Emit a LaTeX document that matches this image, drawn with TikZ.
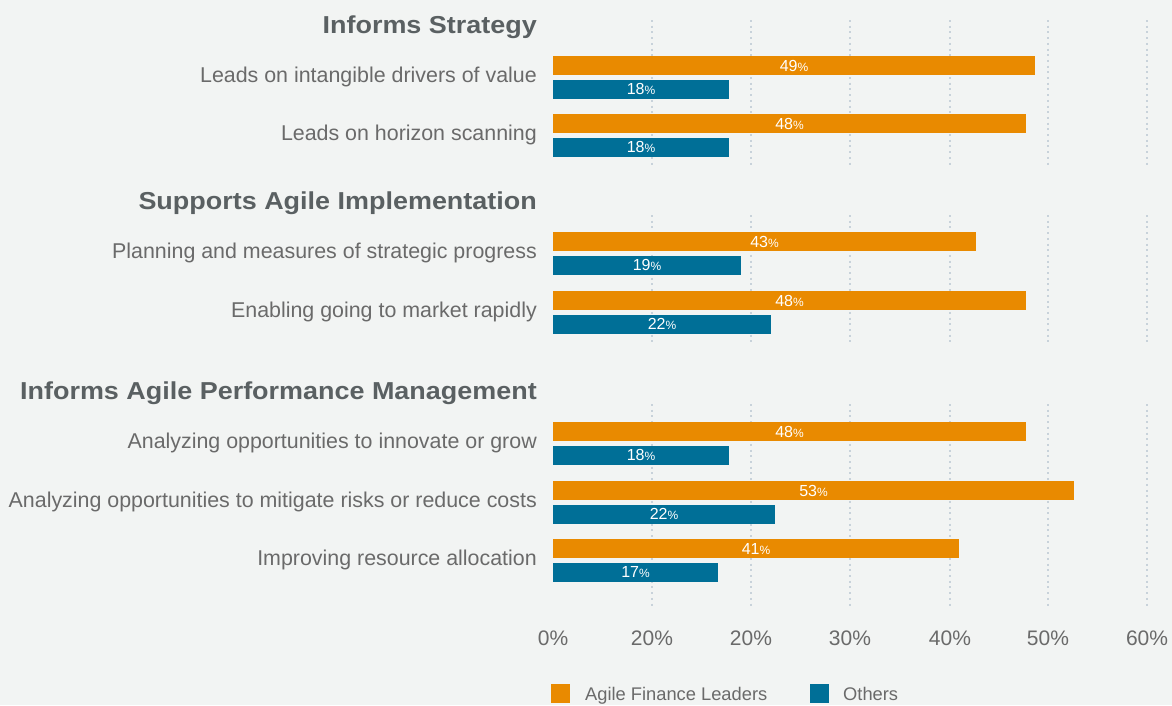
\documentclass[tikz,border=0pt]{standalone}
\usepackage{fontspec}
\setmainfont{Liberation Sans}
\newfontfamily\headfont[FakeStretch=1.1]{Liberation Sans}
\usepackage{tikz}
\usetikzlibrary{positioning}

\definecolor{bgcol}{HTML}{F2F4F3}
\definecolor{leadorange}{HTML}{E98A00}
\definecolor{otherblue}{HTML}{006F97}
\definecolor{gridcol}{HTML}{C8D2DA}
\definecolor{headgray}{HTML}{5A6062}
\definecolor{textgray}{HTML}{6A6A6A}

\newcommand{\smallpct}{{\fontsize{12}{14}\selectfont\%}}

\begin{document}
\begin{tikzpicture}[
    x=1pt, y=-1pt,
    header/.style={anchor=base east, inner sep=0pt, text=headgray,
        font=\headfont\bfseries\fontsize{24.5}{26}\selectfont},
    rowlabel/.style={anchor=base east, inner sep=0pt, text=textgray,
        font=\fontsize{21.4}{24}\selectfont},
    ticklabel/.style={anchor=base, inner sep=0pt, text=textgray,
        font=\fontsize{21}{24}\selectfont},
    barlabel/.style={inner sep=0pt, text=white, font=\fontsize{16}{18}\selectfont},
    gridline/.style={gridcol, line width=2pt, dash pattern=on 2pt off 3.7pt},
    legendkey/.style={minimum size=19pt, inner sep=0pt},
    legendtext/.style={anchor=base west, inner sep=0pt, text=textgray,
        font=\fontsize{18.3}{20}\selectfont}
]
    % Background
    \fill[bgcol] (0,0) rectangle (1172,705);
    \useasboundingbox (0,0) rectangle (1172,705);

    % Grid lines (one block per section)
    \foreach \gx in {652,751,850,950,1048,1147}
        \foreach \ya/\yb in {20/168, 215/345, 404/607}
            \draw[gridline] (\gx,\ya) -- (\gx,\yb);

    % Section headers
    \node[header] (hstrategy) at (537,33) {Informs Strategy};
    \node[header] (himplement) at (537,209) {Supports Agile Implementation};
    \node[header] (hperform) at (537,399) {Informs Agile Performance Management};

    % Row labels
    \node[rowlabel] (rdrivers) at (537,82) {Leads on intangible drivers of value};
    \node[rowlabel] (rhorizon) at (537,140) {Leads on horizon scanning};
    \node[rowlabel] (rplanning) at (537,258) {Planning and measures of strategic progress};
    \node[rowlabel] (rmarket) at (537,317) {Enabling going to market rapidly};
    \node[rowlabel] (rinnovate) at (537,448) {Analyzing opportunities to innovate or grow};
    \node[rowlabel] (rmitigate) at (537,507) {Analyzing opportunities to mitigate risks or reduce costs};
    \node[rowlabel] (rresource) at (537,565) {Improving resource allocation};

    % Bars: top / orange end / blue end / orange value / blue value
    \foreach \top/\la/\lb/\va/\vb [count=\i] in
        {56/1035/729/49/18, 114/1026/729/48/18,
         232/976/741/43/19, 291/1026/771/48/22,
         422/1026/729/48/18, 481/1074/775/53/22, 539/959/718/41/17}{
        \fill[leadorange] (553,\top) rectangle (\la,\top+19);
        \fill[otherblue] (553,\top+23.5) rectangle (\lb,\top+42.5);
        \node[barlabel] (leadval\i) at ({(553+\la)/2},\top+9.7) {\va\smallpct};
        \node[barlabel] (otherval\i) at ({(553+\lb)/2},\top+33.2) {\vb\smallpct};
    }

    % Axis labels
    \foreach \gx/\tl [count=\i] in {553/0, 652/20, 751/20, 850/30, 950/40, 1048/50, 1147/60}
        \node[ticklabel] (tick\i) at (\gx,645) {\tl\%};

    % Legend
    \node[legendkey, fill=leadorange] (keylead) at (560.5,693.5) {};
    \node[legendtext] (txtlead) at (585,700) {Agile Finance Leaders};
    \node[legendkey, fill=otherblue] (keyother) at (819.5,693.5) {};
    \node[legendtext] (txtother) at (843,700) {Others};

\end{tikzpicture}
\end{document}
